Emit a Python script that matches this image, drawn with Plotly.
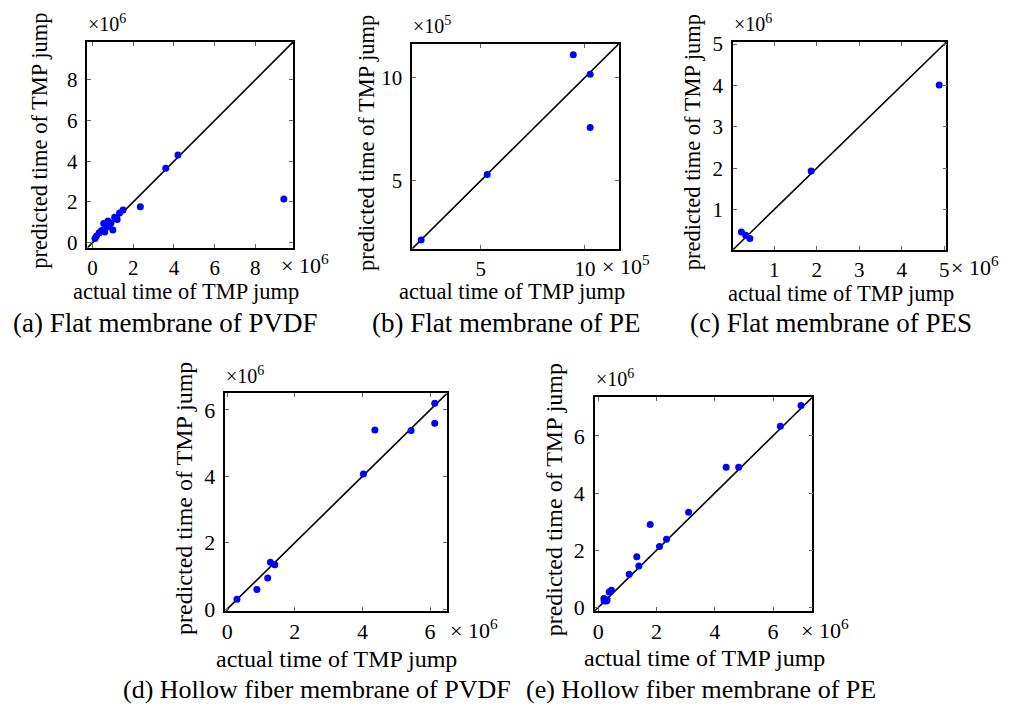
import plotly.graph_objects as go

W, H = 1009, 714
FONT = "Liberation Serif"

# ---- data (values in units of the panel's exponent) ----
# (a) Flat membrane of PVDF, x10^6
a_actual = [9.4, 4.2, 3.6, 2.35, 1.5, 1.33, 1.21, 1.09, 1.0, 0.76, 0.55, 0.6, 0.8, 0.33, 0.19, 0.12, 0.45, 0.9, 0.65]
a_pred   = [2.15, 4.3, 3.65, 1.77, 1.6, 1.46, 1.14, 1.25, 0.62, 1.06, 0.94, 0.52, 0.8, 0.49, 0.33, 0.21, 0.6, 0.95, 0.75]
# (b) Flat membrane of PE, x10^5
b_actual = [2.14, 5.31, 10.25, 10.25, 9.44]
b_pred   = [2.13, 5.30, 10.15, 7.58, 11.10]
# (c) Flat membrane of PES, x10^6
c_actual = [0.23, 0.33, 0.43, 1.87, 4.88]
c_pred   = [0.46, 0.38, 0.30, 1.93, 4.01]
# (d) Hollow fiber membrane of PVDF, x10^6
d_actual = [0.29, 0.88, 1.20, 1.28, 1.41, 4.03, 4.37, 5.44, 6.14, 6.14]
d_pred   = [0.30, 0.59, 0.94, 1.41, 1.34, 4.07, 5.40, 5.38, 6.20, 5.60]
# (e) Hollow fiber membrane of PE, x10^6
e_actual = [6.96, 6.25, 4.39, 4.82, 3.10, 1.78, 2.34, 2.10, 1.32, 1.39, 1.06, 0.45, 0.37, 0.19, 0.28, 0.20, 0.30]
e_pred   = [7.06, 6.34, 4.90, 4.90, 3.33, 2.90, 2.38, 2.13, 1.77, 1.45, 1.16, 0.60, 0.54, 0.31, 0.22, 0.22, 0.27]

captions = ["(a) Flat membrane of PVDF", "(b) Flat membrane of PE", "(c) Flat membrane of PES",
            "(d) Hollow fiber membrane of PVDF", "(e) Hollow fiber membrane of PE"]
exponents = ["6", "5", "6", "6", "6"]
axis_ranges = [[-0.25, 9.85], [1.71, 11.62], [0.03, 5.05], [-0.05, 6.5], [-0.12, 7.35]]
tick_sets = [[0, 2, 4, 6, 8], [5, 10], [1, 2, 3, 4, 5], [0, 2, 4, 6], [0, 2, 4, 6]]

series = [(a_actual, a_pred), (b_actual, b_pred), (c_actual, c_pred), (d_actual, d_pred), (e_actual, e_pred)]

# ---- layout geometry (pixels) ----
boxes = [(84, 291, 33, 245), (411, 619, 35, 246), (734, 949, 33, 247), (223, 446, 395, 619), (595, 814, 399, 619)]
ytitle_x = [35, 365, 693, 181, 554]
xtitle_pos = [(183, 290), (512, 290), (843, 292), (335, 669), (705, 668)]
# caption anchor x, y, anchor side, size
caption_pos = [(162, 322, "center", 27), (506, 322, "center", 27), (833, 322, "center", 27),
               (118, 700, "left", 26), (880, 700, "right", 26)]
xexp_left = [277, 600, 952, 447, 801]
tick_size = [21, 21, 21, 22, 22]
title_size = [22.5, 22.5, 22.5, 24, 24]

fig = go.Figure()
layout = dict(width=W, height=H, margin=dict(l=0, r=0, t=0, b=0), plot_bgcolor="white",
              paper_bgcolor="white", showlegend=False, font=dict(family=FONT, color="black"))
annotations = []

def px(x):
    return x / W

def py(y):
    return 1 - y / H

for i, ((xs, ys), rng, ticks, box) in enumerate(zip(series, axis_ranges, tick_sets, boxes)):
    n = "" if i == 0 else str(i + 1)
    xa, ya = "x" + n, "y" + n
    l, r, t, b = box
    common = dict(range=rng, tickvals=ticks, ticks="inside", ticklen=4, tickwidth=1, tickcolor="#666",
                  showline=True, linecolor="black", linewidth=1.6, mirror="ticks", showgrid=False,
                  zeroline=False, tickfont=dict(family=FONT, size=tick_size[i], color="black"))
    layout["xaxis" + n] = dict(domain=[px(l), px(r)], anchor=ya, **common)
    layout["yaxis" + n] = dict(domain=[py(b), py(t)], anchor=xa, ticklabelstandoff=4, **common)
    fig.add_trace(go.Scatter(x=rng, y=rng, mode="lines", line=dict(color="black", width=1.6),
                             xaxis=xa, yaxis=ya, hoverinfo="skip"))
    fig.add_trace(go.Scatter(x=xs, y=ys, mode="markers", marker=dict(color="#0000ff", size=7),
                             xaxis=xa, yaxis=ya))
    # exponent labels
    annotations.append(dict(text="×10<sup>%s</sup>" % exponents[i], xref="paper", yref="paper",
                            x=px(l - 1), y=py(t - 5), xanchor="left", yanchor="bottom",
                            showarrow=False, font=dict(family=FONT, size=20)))
    annotations.append(dict(text="× 10<sup>%s</sup>" % exponents[i], xref="paper", yref="paper",
                            x=px(xexp_left[i]), y=py(b + (17 if i < 3 else 19)),
                            xanchor="left", yanchor="middle", showarrow=False,
                            font=dict(family=FONT, size=22)))
    # axis titles
    annotations.append(dict(text="predicted time of TMP jump", xref="paper", yref="paper",
                            x=px(ytitle_x[i]), y=py((t + b) / 2 - 4), textangle=-90,
                            xanchor="center", yanchor="middle", showarrow=False,
                            font=dict(family=FONT, size=title_size[i])))
    annotations.append(dict(text="actual time of TMP jump", xref="paper", yref="paper",
                            x=px(xtitle_pos[i][0]), y=py(xtitle_pos[i][1]),
                            xanchor="center", yanchor="middle", showarrow=False,
                            font=dict(family=FONT, size=title_size[i])))
    cx, cy, anc, cs = caption_pos[i]
    annotations.append(dict(text=captions[i], xref="paper", yref="paper",
                            x=px(cx), y=py(cy), xanchor=anc, yanchor="middle", showarrow=False,
                            font=dict(family=FONT, size=cs)))

layout["annotations"] = annotations
fig.update_layout(**layout)
fig.write_html("out.html", config={"displayModeBar": False},
               post_script="document.body.style.margin='0';")
